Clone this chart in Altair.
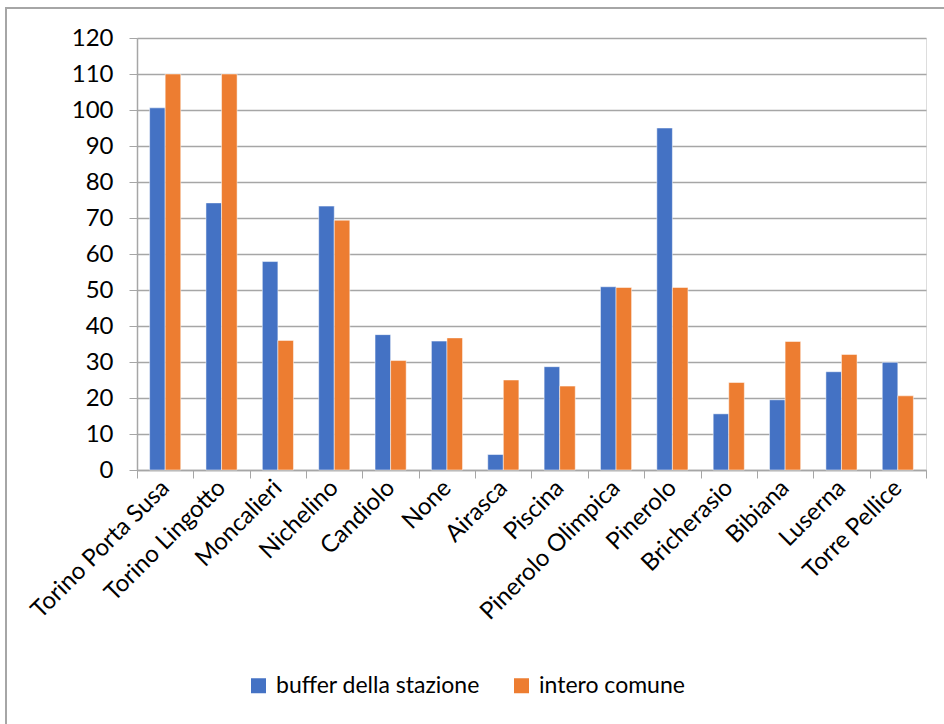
import altair as alt
import pandas as pd

categories = ["Torino Porta Susa", "Torino Lingotto", "Moncalieri", "Nichelino", "Candiolo",
              "None", "Airasca", "Piscina", "Pinerolo Olimpica", "Pinerolo", "Bricherasio",
              "Bibiana", "Luserna", "Torre Pellice"]
buffer_stazione = [100.6, 74.2, 57.9, 73.3, 37.6, 35.8, 4.3, 28.7, 50.9, 95.0, 15.6, 19.5, 27.3, 29.9]
intero_comune = [110.0, 110.0, 36.0, 69.4, 30.4, 36.7, 25.0, 23.3, 50.7, 50.7, 24.3, 35.7, 32.1, 20.6]
series_names = ["buffer della stazione", "intero comune"]
colors = ["#4472C4", "#ED7D31"]

rows = []
for i, c in enumerate(categories):
    rows.append({"cat": c, "serie": series_names[0], "val": buffer_stazione[i]})
    rows.append({"cat": c, "serie": series_names[1], "val": intero_comune[i]})
df = pd.DataFrame(rows)

FONT = "Lato"
W, H = 789, 432

bars = alt.Chart(df).mark_bar(stroke="white", strokeWidth=0.5).encode(
    x=alt.X("cat:N", sort=categories, title=None,
            scale=alt.Scale(paddingInner=0, paddingOuter=0),
            axis=alt.Axis(labelAngle=-45, labelAlign="right", labelBaseline="middle",
                          labelFontSize=24, labelFont=FONT, labelColor="#000000",
                          tickBand="extent", tickSize=8, tickColor="#a6a6a6",
                          domainColor="#a6a6a6", domainWidth=1.5, labelPadding=6,
                          grid=False, labelOverlap=False, labelLimit=0)),
    xOffset=alt.XOffset("serie:N", sort=series_names,
                        scale=alt.Scale(paddingInner=0, paddingOuter=0.81)),
    y=alt.Y("val:Q", title=None,
            scale=alt.Scale(domain=[0, 120], nice=False),
            axis=alt.Axis(values=list(range(0, 121, 10)), labelFontSize=24, labelFont=FONT,
                          labelColor="#000000", tickSize=8, tickColor="#a6a6a6",
                          domainColor="#a6a6a6", domainWidth=1.5, labelPadding=16,
                          gridColor="#a6a6a6", gridWidth=1.5)),
    color=alt.Color("serie:N", sort=series_names,
                    scale=alt.Scale(domain=series_names, range=colors),
                    legend=alt.Legend(title=None, orient="none", direction="horizontal",
                                      legendX=110, legendY=636,
                                      symbolType="square", symbolSize=225,
                                      symbolStrokeWidth=0, labelLimit=0,
                                      labelFontSize=23, labelFont=FONT, labelColor="#000000",
                                      columnPadding=30, labelOffset=6)),
)

frame = alt.Chart(df).mark_rect(fill=None, stroke="#a6a6a6", strokeWidth=1.5, clip=False).encode(
    x=alt.value(-131), x2=alt.value(W + 40), y=alt.value(-30), y2=alt.value(H + 300)
)

chart = alt.layer(frame, bars).properties(
    width=W, height=H,
    autosize=alt.AutoSizeParams(type="none"),
    padding={"left": 137, "top": 38, "right": 18, "bottom": 254},
).configure_view(stroke=None).configure(background="white")

chart.save("out.html", embed_options={"renderer": "svg", "actions": False})
